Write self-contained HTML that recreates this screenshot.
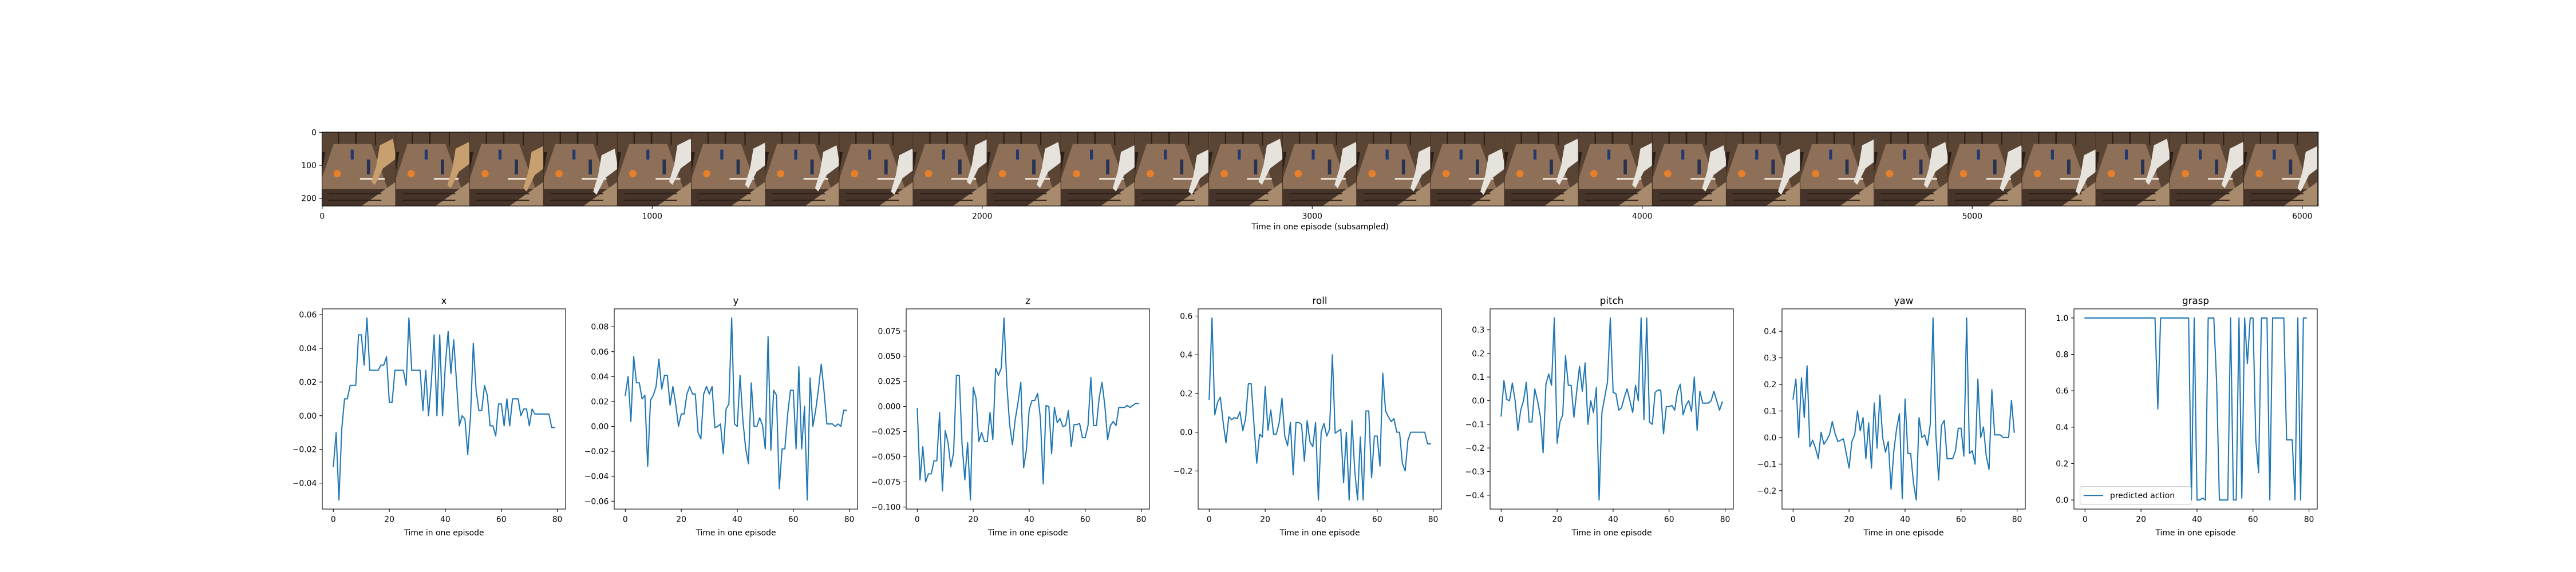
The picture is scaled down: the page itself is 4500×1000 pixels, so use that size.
<!DOCTYPE html>
<html><head><meta charset="utf-8"><style>
html,body{margin:0;padding:0;background:#fff;}
svg{display:block;font-family:"DejaVu Sans","Liberation Sans",sans-serif;}
</style></head><body>
<svg id="fig" width="4500" height="1000" viewBox="0 0 4500 1000" xmlns="http://www.w3.org/2000/svg">
<rect width="4500" height="1000" fill="#fff"/>
<g id="strip"></g>
<g id="panels"></g>
</svg>
<script>
const NS="http://www.w3.org/2000/svg";
const titles=["x","y","z","roll","pitch","yaw","grasp"];
const xTicks=[0,20,40,60,80];
const xVals=[-0.03,-0.01,-0.05,-0.008,0.01,0.01,0.018,0.018,0.018,0.048,0.048,0.03,0.058,0.027,0.027,0.027,0.027,0.03,0.03,0.035,0.008,0.008,0.027,0.027,0.027,0.027,0.018,0.058,0.027,0.027,0.027,0.027,0.003,0.027,0.0,0.02,0.048,0.0,0.048,0.0,0.03,0.05,0.025,0.045,0.02,-0.006,0.0,-0.002,-0.023,0.0,0.043,0.015,0.003,0.003,0.018,0.012,-0.006,-0.006,-0.012,0.007,0.007,-0.006,0.01,-0.006,0.01,0.01,0.01,0.0,0.004,0.004,-0.006,0.004,0.001,0.001,0.001,0.001,0.001,0.001,-0.007,-0.007];
const yVals=[0.025,0.04,0.004,0.056,0.035,0.035,0.022,0.025,-0.032,0.021,0.025,0.032,0.054,0.03,0.041,0.041,0.017,0.032,0.018,0.0,0.01,0.01,0.026,0.032,0.026,0.026,-0.005,-0.01,0.026,0.032,0.026,0.032,-0.001,0.0,0.002,-0.022,0.014,0.018,0.087,0.002,0.0,0.041,0.005,-0.018,-0.03,0.035,0.0,0.0,0.007,0.001,-0.018,0.072,-0.019,0.029,0.025,-0.05,-0.018,-0.018,0.01,0.029,0.029,-0.018,0.048,-0.018,0.016,-0.059,0.039,0.0,0.013,0.03,0.05,0.028,0.002,0.002,0.002,0.0,0.002,0.0,0.013,0.013];
const zVals=[-0.002,-0.073,-0.04,-0.075,-0.067,-0.067,-0.054,-0.054,-0.006,-0.084,-0.024,-0.036,-0.06,-0.046,0.031,0.031,-0.037,-0.073,-0.036,-0.093,0.019,0.008,-0.035,-0.026,-0.035,-0.035,-0.006,-0.033,0.038,0.031,0.038,0.088,0.022,-0.018,-0.038,-0.013,0.004,0.024,-0.061,-0.043,-0.003,0.006,0.006,0.013,-0.012,-0.077,0.001,0.0,-0.047,-0.001,-0.016,-0.012,-0.02,-0.019,-0.004,-0.04,-0.018,-0.018,-0.017,-0.031,-0.031,-0.019,0.029,-0.019,-0.019,0.009,0.024,0.001,-0.033,-0.019,-0.015,-0.019,-0.001,-0.001,-0.001,0.001,-0.001,0.001,0.003,0.003];
const rollVals=[0.17,0.59,0.09,0.155,0.18,0.05,-0.055,0.08,0.065,0.075,0.07,0.105,0.008,0.07,0.25,0.25,0.04,-0.16,-0.01,-0.025,0.235,0.01,0.115,-0.01,-0.01,0.05,0.175,-0.02,-0.07,0.05,-0.22,0.05,0.05,0.04,-0.15,0.06,-0.05,-0.075,0.05,-0.35,0.0,0.045,-0.02,0.015,0.4,-0.005,0.005,0.015,-0.26,0.0,-0.35,0.06,-0.2,-0.35,-0.025,-0.35,0.11,0.11,-0.235,-0.02,-0.02,-0.175,0.305,0.11,0.08,0.055,0.07,0.0,0.0,-0.16,-0.2,-0.04,0.0,0.0,0.0,0.0,0.0,0.0,-0.06,-0.06];
const pitchVals=[-0.065,0.085,0.005,0.0,0.075,0.0,-0.125,-0.04,0.0,0.078,-0.09,-0.09,0.05,0.0,-0.065,-0.22,0.07,0.113,0.065,0.35,-0.18,-0.09,-0.06,0.19,0.065,0.065,-0.07,0.04,0.145,0.04,0.16,-0.1,0.0,-0.05,0.055,-0.42,-0.05,0.015,0.08,0.35,0.035,0.03,-0.04,-0.03,0.015,0.05,0.0,-0.05,0.065,0.0,0.35,-0.08,0.35,-0.09,-0.1,0.035,0.045,0.045,-0.14,-0.025,-0.025,-0.02,-0.04,0.04,0.07,-0.06,-0.02,0.0,-0.045,0.1,-0.125,0.04,-0.01,-0.01,-0.01,0.0,0.04,0.0,-0.04,-0.005];
const yawVals=[0.145,0.22,0.0,0.225,0.075,0.27,-0.035,-0.01,-0.04,-0.08,0.02,-0.025,-0.01,0.01,0.06,0.015,-0.015,-0.01,-0.005,-0.06,-0.115,-0.015,0.01,0.1,0.025,0.075,-0.08,0.055,-0.115,0.13,-0.04,0.16,0.0,-0.055,-0.015,-0.195,-0.05,0.035,0.09,-0.23,0.145,-0.06,-0.06,-0.17,-0.235,0.075,0.0,0.01,-0.03,0.05,0.45,0.01,-0.16,0.045,0.065,-0.08,-0.08,-0.08,-0.05,0.035,0.035,-0.07,0.45,-0.06,-0.05,-0.1,0.22,0.0,0.04,-0.07,-0.12,0.18,0.01,0.01,0.01,0.0,0.0,0.0,0.14,0.02];
const graspVals=[1,1,1,1,1,1,1,1,1,1,1,1,1,1,1,1,1,1,1,1,1,1,1,1,1,1,0.5,1,1,1,1,1,1,1,1,1,1,1,0,1,0,0,0.01,0,1,1,1,0.65,0,0,0,0,1,0,0,1,0.01,1,0.75,1,1,0.33,0.15,1,1,1,0,1,1,1,1,1,0.33,0.33,0.33,0,1,0,1,1];
const series=[xVals,yVals,zVals,rollVals,pitchVals,yawVals,graspVals];
const yTicks=[[-0.04,-0.02,0,0.02,0.04,0.06],[-0.06,-0.04,-0.02,0,0.02,0.04,0.06,0.08],[-0.1,-0.075,-0.05,-0.025,0,0.025,0.05,0.075],[-0.2,0,0.2,0.4,0.6],[-0.4,-0.3,-0.2,-0.1,0,0.1,0.2,0.3],[-0.2,-0.1,0,0.1,0.2,0.3,0.4],[0,0.2,0.4,0.6,0.8,1.0]];
const yDecimals=[2,2,3,1,1,1,1];
const stripXTicks=[0,1000,2000,3000,4000,5000,6000];
const stripYTicks=[0,100,200];

function mk(tag,attrs,parent){const e=document.createElementNS(NS,tag);for(const k in attrs)e.setAttribute(k,attrs[k]);parent.appendChild(e);return e;}
function fmt(v,d){const s=Math.abs(v).toFixed(d);return (v<-1e-12?"\u2212":"")+s;}

// ---- panels ----
const panels=document.getElementById('panels');
const PW=425,PH=350,PT=540,L0=563,STEP=510;
series.forEach((vals,p)=>{
  const left=L0+p*STEP, right=left+PW, bot=PT+PH;
  const g=mk('g',{},panels);
  
  
  const n=vals.length;
  const x0=-0.05*(n-1), x1=(n-1)*1.05;
  let mn=Math.min(...vals), mx=Math.max(...vals), r=mx-mn;
  const y0=mn-0.05*r, y1=mx+0.05*r;
  const sx=v=>left+(v-x0)/(x1-x0)*PW;
  const sy=v=>bot-(v-y0)/(y1-y0)*PH;
  // line
  const d=vals.map((v,i)=>(i?'L':'M')+sx(i).toFixed(2)+','+sy(v).toFixed(2)).join('');
  const path=mk('path',{d:d,fill:'none',stroke:'#1f77b4','stroke-width':2.08,'stroke-linejoin':'round','stroke-linecap':'square'},g);
  
  
  // frame
  const fr=mk('rect',{x:left,y:PT,width:PW,height:PH,fill:'none',stroke:'#000','stroke-width':1.1},g);
  
  
  // x ticks
  xTicks.forEach(t=>{
    const x=sx(t);
    mk('line',{x1:x,x2:x,y1:bot,y2:bot+4.9,stroke:'#000','stroke-width':1.1},g);
    const tx=mk('text',{x:x,y:bot+22.5,'font-size':13.9,'text-anchor':'middle'},g);
    tx.textContent=String(t);
    
    
  });
  // y ticks
  yTicks[p].forEach(t=>{
    const y=sy(t);
    mk('line',{x1:left,x2:left-4.9,y1:y,y2:y,stroke:'#000','stroke-width':1.1},g);
    const tx=mk('text',{x:left-9.7,y:y+5,'font-size':13.9,'text-anchor':'end'},g);
    tx.textContent=fmt(t,yDecimals[p]);
    
    
  });
  const ti=mk('text',{x:left+PW/2,y:PT-8.5,'font-size':16.7,'text-anchor':'middle'},g);
  ti.textContent=titles[p];
  
  
  const xl=mk('text',{x:left+PW/2,y:936,'font-size':13.9,'text-anchor':'middle'},g);
  xl.textContent='Time in one episode';
  
  
  if(p===6){
    const lg=mk('g',{},g);
    
    
    mk('rect',{x:3633.6,y:850.7,width:194,height:31,rx:2.8,fill:'#fff','fill-opacity':0.8,stroke:'#cccccc','stroke-width':1.1},lg);
    mk('line',{x1:3639.7,x2:3674,y1:866.2,y2:866.2,stroke:'#1f77b4','stroke-width':2.08},lg);
    const lt=mk('text',{x:3686,y:871.2,'font-size':13.9},lg);
    lt.textContent='predicted action';
    
    
  }
});

// ---- image strip ----
const strip=document.getElementById('strip');
const SL=562.5,ST=231,SC=0.5765,NF=27,FW=224;
const fg=mk('g',{transform:`translate(${SL},${ST}) scale(${SC})`},strip);
const defs=mk('defs',{},strip);
const cp=mk('clipPath',{id:'stripclip'},defs);
mk('rect',{x:0,y:0,width:NF*FW,height:224},cp);
fg.setAttribute('clip-path','url(#stripclip)');
for(let f=0;f<NF;f++){
  const g=mk('g',{transform:`translate(${f*FW},0)`},fg);
  
  
  mk('rect',{x:0,y:0,width:FW,height:224,fill:'#5a4535'},g);
  mk('rect',{x:48,y:0,width:4,height:40,fill:'#2e2219'},g);
  mk('rect',{x:100,y:0,width:5,height:40,fill:'#2e2219'},g);
  mk('rect',{x:160,y:0,width:4,height:40,fill:'#2e2219'},g);
  mk('polygon',{points:'0,120 10,60 0,60',fill:'#2a1e16'},g);
  mk('polygon',{points:'35,36 150,36 200,175 0,175 0,140',fill:'#8e7058'},g);
  mk('rect',{x:0,y:172,width:200,height:52,fill:'#46342a'},g);
  mk('polygon',{points:'120,224 224,150 224,224',fill:'#a88a6c'},g);
  mk('rect',{x:20,y:185,width:160,height:3,fill:'#2a1e16'},g);
  mk('rect',{x:20,y:205,width:160,height:3,fill:'#2a1e16'},g);
  mk('rect',{x:115,y:139,width:75,height:5,fill:'#f0e8dc'},g);
  mk('circle',{cx:46,cy:126,r:11,fill:'#e8802a'},g);
  mk('rect',{x:87,y:53,width:9,height:30,fill:'#23386e'},g);
  mk('rect',{x:136,y:83,width:10,height:45,fill:'#283252'},g);
  const ax=175+ (f%3)*6, ay=40+(f%4)*10;
  mk('polygon',{points:`${ax},${ay} ${ax+40},${ay-20} ${ax+50},${ay+40} ${ax+10},${ay+70} ${ax-15},${ay+120} ${ax-25},${ay+110} ${ax-10},${ay+60}`,fill: f<3?'#c8a070':'#e6e2dc'},g);
  mk('rect',{x:FW-2,y:0,width:2,height:224,fill:'#3a2a20'},g);
}
const sr=mk('rect',{x:SL,y:ST,width:6049*SC,height:224*SC,fill:'none',stroke:'#000','stroke-width':1.1},strip);


stripXTicks.forEach(t=>{
  const x=SL+(t+0.5)*SC, b=ST+224*SC;
  mk('line',{x1:x,x2:x,y1:b,y2:b+4.9,stroke:'#000','stroke-width':1.1},strip);
  const tx=mk('text',{x:x,y:b+22.5,'font-size':13.9,'text-anchor':'middle'},strip);
  tx.textContent=String(t);
  
  
});
stripYTicks.forEach(t=>{
  const y=ST+(t+0.5)*SC;
  mk('line',{x1:SL,x2:SL-4.9,y1:y,y2:y,stroke:'#000','stroke-width':1.1},strip);
  const tx=mk('text',{x:SL-9.7,y:y+5,'font-size':13.9,'text-anchor':'end'},strip);
  tx.textContent=String(t);
  
  
});
const sxl=mk('text',{x:SL+6049*SC/2,y:401,'font-size':13.9,'text-anchor':'middle'},strip);
sxl.textContent='Time in one episode (subsampled)';


</script>
</body></html>
